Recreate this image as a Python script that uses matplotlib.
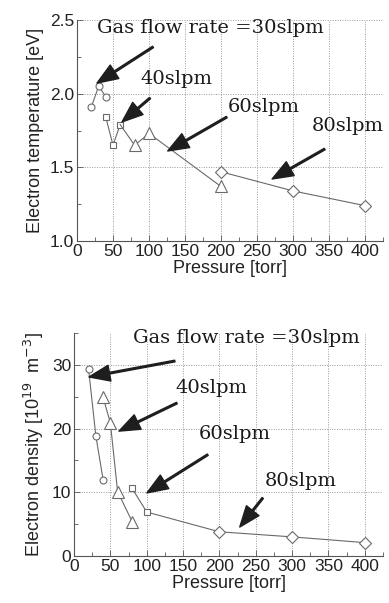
import matplotlib
matplotlib.use("Agg")
import matplotlib.pyplot as plt
from matplotlib.ticker import MultipleLocator

# ---- data: electron temperature (top) ----
te_30_x = [20, 30, 40]
te_30_y = [1.91, 2.05, 1.98]
te_40_x = [40, 50, 60]
te_40_y = [1.84, 1.65, 1.79]
te_60_x = [80, 100, 200]
te_60_y = [1.65, 1.73, 1.37]
te_80_x = [200, 300, 400]
te_80_y = [1.47, 1.34, 1.24]

# ---- data: electron density (bottom) ----
ne_30_x = [20, 30, 40]
ne_30_y = [29.4, 18.9, 12.0]
ne_40_x = [40, 50, 60, 80]
ne_40_y = [24.9, 20.9, 10.1, 5.4]
ne_60_x = [80, 100]
ne_60_y = [10.6, 6.9]
ne_80_x = [200, 300, 400]
ne_80_y = [3.8, 3.0, 2.1]

x_ticks = [0, 50, 100, 150, 200, 250, 300, 350, 400]
labels = ["Gas flow rate =30slpm", "40slpm", "60slpm", "80slpm"]

fig = plt.figure(figsize=(3.89, 6.03), dpi=100)
ax1 = fig.add_axes([77/389, (603-241)/603, 306/389, 221/603])
ax2 = fig.add_axes([74/389, (603-556)/603, 309/389, 223/603])

LC = "#6a6a6a"
common = dict(color=LC, lw=0.8, mfc="white", mec=LC, mew=0.8)

def style(ax, ylim, ymaj, ymin):
    ax.set_xlim(0, 425)
    ax.set_ylim(*ylim)
    ax.set_xticks(x_ticks)
    ax.xaxis.set_minor_locator(MultipleLocator(25))
    ax.yaxis.set_major_locator(MultipleLocator(ymaj))
    ax.yaxis.set_minor_locator(MultipleLocator(ymin))
    for s in ["top", "right"]:
        ax.spines[s].set_visible(False)
    for s in ["left", "bottom"]:
        ax.spines[s].set_color("#555555")
        ax.spines[s].set_linewidth(0.8)
    ax.tick_params(which="both", direction="in", colors="#555555",
                   labelcolor="#222222", labelsize=12.5, width=0.6)
    ax.tick_params(which="major", length=4, pad=2)
    ax.tick_params(which="minor", length=3)
    ax.grid(True, which="major", linestyle=(0, (1, 1.5)), color="#9a9a9a", lw=0.7)
    ax.set_axisbelow(True)
    for lab in ax.get_xticklabels() + ax.get_yticklabels():
        lab.set_family("Liberation Sans")
    ax.set_xlabel("Pressure [torr]", fontsize=13, family="Liberation Sans",
                  color="#222222", labelpad=1)

# ---- top ----
ax = ax1
ax.plot(te_30_x, te_30_y, marker="o", ms=5, **common)
ax.plot(te_40_x, te_40_y, marker="s", ms=5, **common)
ax.plot([te_40_x[-1], te_60_x[0]], [te_40_y[-1], te_60_y[0]], color=LC, lw=0.8)
ax.plot(te_60_x, te_60_y, marker="^", ms=8, **common)
ax.plot(te_80_x, te_80_y, marker="D", ms=6, **common)
style(ax, (1.0, 2.5), 0.5, 0.25)
ax.set_ylabel("Electron temperature [eV]", fontsize=13, family="Liberation Sans",
              color="#222222", labelpad=4)

arrow = dict(facecolor="#1e1e1e", edgecolor="#1e1e1e", width=1.2,
             headwidth=11.5, headlength=15, shrink=0)
tfont = dict(family="DejaVu Serif", fontsize=14, color="#1a1a1a", va="baseline")

top_arrows = [((105.6, 2.317), (27.8, 2.072)),
              ((101.4, 1.970), (62.5, 1.808)),
              ((208, 1.841), (126, 1.611)),
              ((344, 1.624), (271, 1.421))]
top_text = [(27.8, 2.41), (87.5, 2.065), (210, 1.878), (326, 1.749)]
for (tail, tip) in top_arrows:
    ax.annotate("", xy=tip, xytext=tail, arrowprops=arrow, annotation_clip=False)
for (pos, lab) in zip(top_text, labels):
    ax.text(pos[0], pos[1], lab, clip_on=False, **tfont)

# ---- bottom ----
ax = ax2
ax.plot(ne_30_x, ne_30_y, marker="o", ms=5, **common)
ax.plot(ne_40_x, ne_40_y, marker="^", ms=8, **common)
ax.plot(ne_60_x + ne_80_x[:1], ne_60_y + ne_80_y[:1], color=LC, lw=0.8)
ax.plot(ne_60_x, ne_60_y, marker="s", ms=5, ls="none", mfc="white", mec=LC, mew=0.8)
ax.plot(ne_80_x, ne_80_y, marker="D", ms=6, **common)
style(ax, (0, 35), 10, 5)
ax.set_ylabel(r"Electron density [10$^{19}$  m$^{-3}$]", fontsize=13,
              family="Liberation Sans", color="#222222", labelpad=4)

bot_arrows = [((138.7, 30.6), (20.6, 28.1)),
              ((141.5, 24.0), (61.8, 19.6)),
              ((184, 15.9), (100.3, 9.9)),
              ((259.6, 9.1), (228, 4.55))]
bot_text = [(81, 33.5), (140, 25.6), (171.7, 18.4), (262.4, 11.0)]
for (tail, tip) in bot_arrows:
    ax.annotate("", xy=tip, xytext=tail, arrowprops=arrow, annotation_clip=False)
for (pos, lab) in zip(bot_text, labels):
    ax.text(pos[0], pos[1], lab, clip_on=False, **tfont)

fig.savefig("out.png", dpi=100)
